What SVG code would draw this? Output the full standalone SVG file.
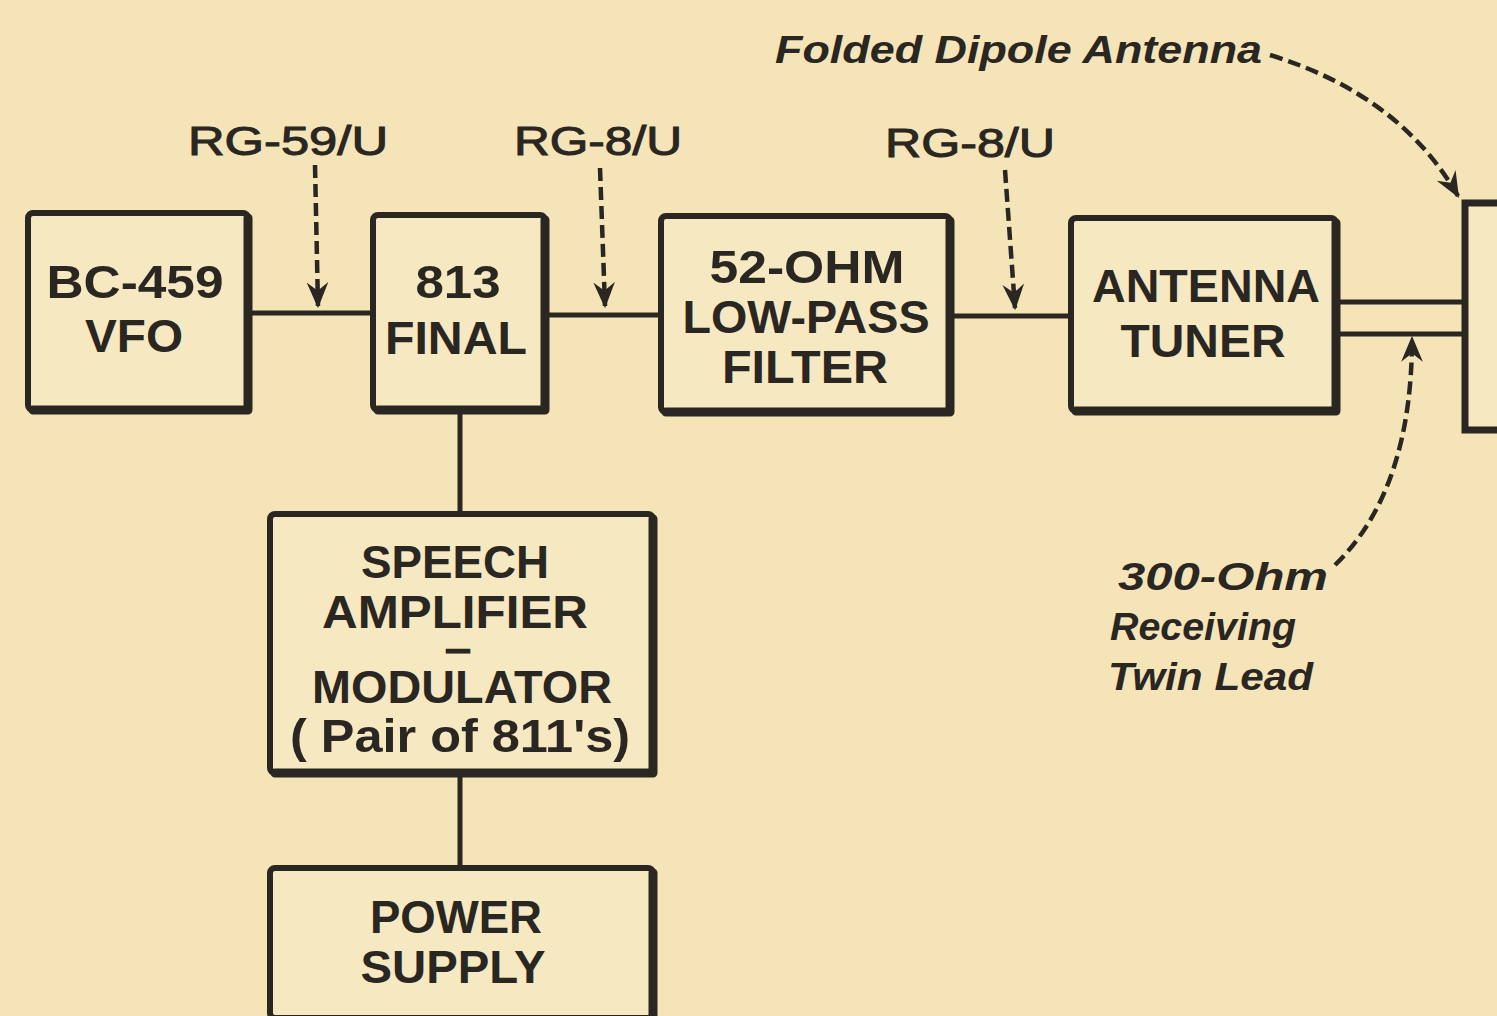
<svg xmlns="http://www.w3.org/2000/svg" width="1497" height="1016" viewBox="0 0 1497 1016">
<defs>
<style>
.bg{fill:#f4e4b8}
.box{fill:#f6e8c0;stroke:#2a2621;stroke-width:6}
.sh{fill:none;stroke:#2a2621;stroke-width:9;stroke-linecap:round;stroke-linejoin:round}
.t{font-family:"Liberation Sans",Arial,sans-serif;font-weight:bold;font-size:46px;fill:#2a2621;text-anchor:middle}
.lbl{font-family:"Liberation Sans",Arial,sans-serif;font-size:40px;fill:#2a2621;stroke:#2a2621;stroke-width:1;text-anchor:middle}
.it{font-family:"Liberation Sans",Arial,sans-serif;font-weight:bold;font-style:italic;font-size:38px;fill:#2a2621}
.wire{fill:none;stroke:#2a2621;stroke-width:5}
.dash{fill:none;stroke:#2a2621;stroke-width:4.5;stroke-dasharray:13 6}
</style>
<marker id="ah" viewBox="0 0 24 24" refX="22" refY="12" markerWidth="26" markerHeight="26" markerUnits="userSpaceOnUse" orient="auto">
<path d="M0,2 L24,12 L0,22 L8,12 Z" fill="#2a2621"/>
</marker>
</defs>
<rect class="bg" x="0" y="0" width="1497" height="1016"/>

<g id="connectors">
<line class="wire" x1="250" y1="313" x2="372" y2="313"/>
<line class="wire" x1="547" y1="315" x2="660" y2="315"/>
<line class="wire" x1="952" y1="316" x2="1070" y2="316"/>
<line class="wire" x1="460" y1="412" x2="460" y2="515"/>
<line class="wire" x1="460" y1="775" x2="460" y2="867"/>
<polyline class="wire" points="1338,302 1465,302"/>
<polyline class="wire" points="1338,334 1465,334"/>
<path class="dash" d="M315,165 L318,306" marker-end="url(#ah)"/>
<path class="dash" d="M600,168 L605,306" marker-end="url(#ah)"/>
<path class="dash" d="M1005,170 L1015,308" marker-end="url(#ah)"/>
<path class="dash" d="M1270,55 Q1400,95 1458,196" marker-end="url(#ah)"/>
<path class="dash" d="M1335,565 Q1412,490 1412,338" marker-end="url(#ah)"/>
</g>

<g id="antenna">
<rect x="1465" y="203" width="40" height="227" fill="#f6e8c0" stroke="#2a2621" stroke-width="7"/>
</g>

<g id="vfo">
<rect class="box" x="28" y="213" width="220" height="197" rx="5"/>
<path class="sh" d="M248,218 L248,410 L33,410"/>
<text class="t" x="135" y="298" textLength="177" lengthAdjust="spacingAndGlyphs">BC-459</text>
<text class="t" x="134" y="352" textLength="98" lengthAdjust="spacingAndGlyphs">VFO</text>
</g>

<g id="final">
<rect class="box" x="373" y="215" width="172" height="195" rx="5"/>
<path class="sh" d="M545,220 L545,410 L378,410"/>
<text class="t" x="458" y="298" textLength="85" lengthAdjust="spacingAndGlyphs">813</text>
<text class="t" x="456" y="354" textLength="142" lengthAdjust="spacingAndGlyphs">FINAL</text>
</g>

<g id="filter">
<rect class="box" x="661" y="216" width="289" height="196" rx="5"/>
<path class="sh" d="M950,221 L950,412 L666,412"/>
<text class="t" x="807" y="283" textLength="195" lengthAdjust="spacingAndGlyphs">52-OHM</text>
<text class="t" x="806" y="333" textLength="247" lengthAdjust="spacingAndGlyphs">LOW-PASS</text>
<text class="t" x="805" y="383" textLength="166" lengthAdjust="spacingAndGlyphs">FILTER</text>
</g>

<g id="tuner">
<rect class="box" x="1071" y="218" width="265" height="193" rx="5"/>
<path class="sh" d="M1336,223 L1336,411 L1076,411"/>
<text class="t" x="1206" y="302" textLength="228" lengthAdjust="spacingAndGlyphs">ANTENNA</text>
<text class="t" x="1203" y="357" textLength="165" lengthAdjust="spacingAndGlyphs">TUNER</text>
</g>

<g id="speech">
<rect class="box" x="270" y="514" width="383" height="259" rx="5"/>
<path class="sh" d="M653,519 L653,773 L275,773"/>
<text class="t" x="455" y="628" textLength="266" lengthAdjust="spacingAndGlyphs">AMPLIFIER</text>
<text class="t" x="455" y="578" textLength="188" lengthAdjust="spacingAndGlyphs">SPEECH</text>
<text class="t" x="458" y="656" style="font-size:16px;stroke:#2a2621;stroke-width:3" textLength="20" lengthAdjust="spacingAndGlyphs">–</text>
<text class="t" x="462" y="703" textLength="300" lengthAdjust="spacingAndGlyphs">MODULATOR</text>
<text class="t" x="460" y="752" textLength="340" lengthAdjust="spacingAndGlyphs">( Pair of 811's)</text>
</g>

<g id="power">
<rect class="box" x="270" y="868" width="383" height="150" rx="5"/>
<path class="sh" d="M653,873 L653,1016"/>
<text class="t" x="456" y="933" textLength="172" lengthAdjust="spacingAndGlyphs">POWER</text>
<text class="t" x="453" y="983" textLength="185" lengthAdjust="spacingAndGlyphs">SUPPLY</text>
</g>

<g id="labels">
<text class="lbl" x="288" y="155" textLength="200" lengthAdjust="spacingAndGlyphs">RG-59/U</text>
<text class="lbl" x="598" y="155" textLength="168" lengthAdjust="spacingAndGlyphs">RG-8/U</text>
<text class="lbl" x="970" y="157" textLength="170" lengthAdjust="spacingAndGlyphs">RG-8/U</text>
<text class="it" x="775" y="63" textLength="487" lengthAdjust="spacingAndGlyphs">Folded  Dipole  Antenna</text>
<text class="it" x="1118" y="590" textLength="210" lengthAdjust="spacingAndGlyphs">300-Ohm</text>
<text class="it" x="1110" y="640" textLength="186" lengthAdjust="spacingAndGlyphs">Receiving</text>
<text class="it" x="1108" y="690" textLength="205" lengthAdjust="spacingAndGlyphs">Twin  Lead</text>
</g>
</svg>
